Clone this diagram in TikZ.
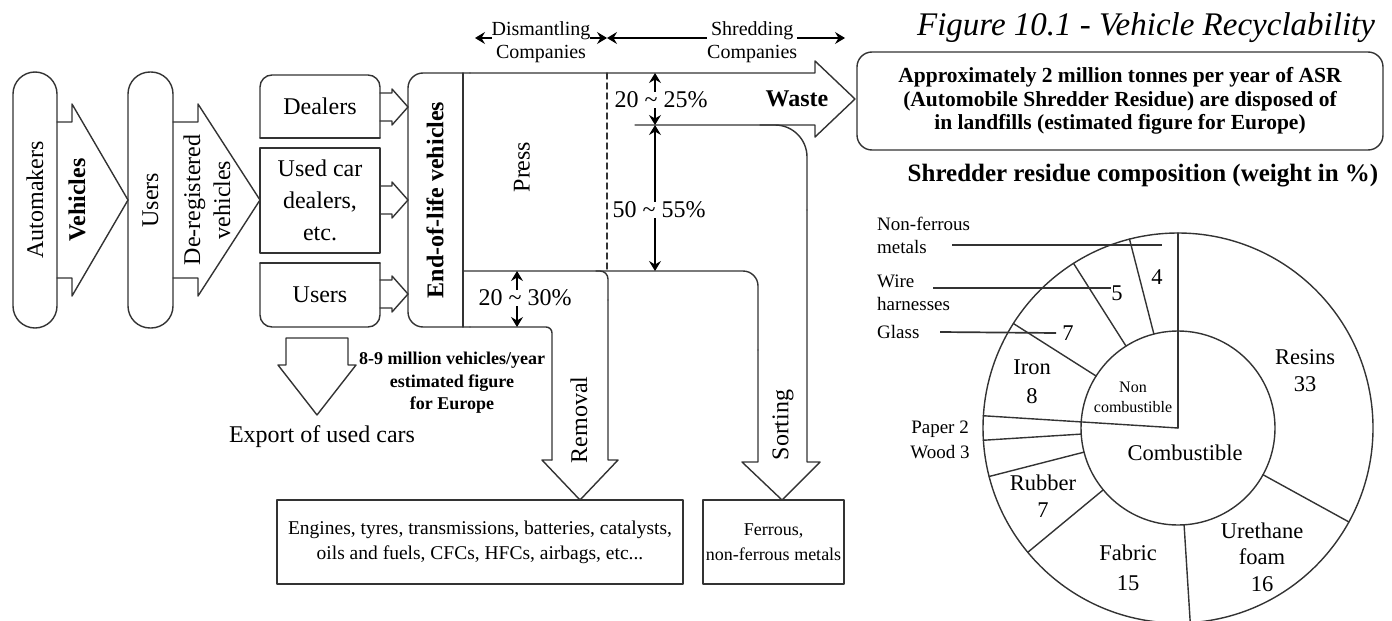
\documentclass[tikz,border=0pt]{standalone}
\usepackage{fontspec}
\setmainfont{Liberation Serif}
\usetikzlibrary{arrows.meta}
\tikzset{
  base/.style={inner sep=0pt, align=center, text=black},
  t24/.style={base, font=\fontsize{24}{28}\selectfont},
  b24/.style={base, font=\fontsize{24}{28}\selectfont\bfseries},
  t20/.style={base, font=\fontsize{20}{23}\selectfont},
  b21/.style={base, font=\fontsize{21.5}{23.5}\selectfont\bfseries},
  b18/.style={base, font=\fontsize{18}{22.5}\selectfont\bfseries},
  t22/.style={base, font=\fontsize{22.5}{27}\selectfont},
  t19/.style={base, font=\fontsize{19}{23}\selectfont},
  ln/.style={line width=1.4pt, draw=black!80, line cap=round, line join=round},
  lead/.style={line width=1.7pt, draw=black!80},
  dim/.style={line width=1.2pt, draw=black, {Stealth[length=10pt,width=12pt,inset=3.5pt]}-{Stealth[length=10pt,width=12pt,inset=3.5pt]}},
  lbl/.style={fill=white, inner sep=1.5pt},
  smallarr/.pic={\draw[ln] (0,-14) -- (12,-14) -- (12,-18) -- (28,0) -- (12,18) -- (12,14) -- (0,14);},
}
\newcommand{\tld}{\textasciitilde}
\begin{document}
\begin{tikzpicture}[x=1pt,y=-1pt]
\useasboundingbox (0,0) rectangle (1392,621);
\clip (0,0) rectangle (1392,621);

% ---------- left chain ----------
\node[draw, ln, rounded corners=22pt, minimum width=256pt, minimum height=44pt, rotate=90, t24] (automakers) at (35,200) {Automakers};
\draw[ln] (57,122) -- (72,122) -- (72,104) -- (128,200) -- (72,296) -- (72,278) -- (57,278);
\node[b24, rotate=90] (vehlbl) at (77,200) {Vehicles};
\node[draw, ln, rounded corners=22pt, minimum width=256pt, minimum height=45pt, rotate=90, t24] (users1) at (150.5,200) {Users};
\draw[ln] (173,122) -- (198,122) -- (198,104) -- (260,200) -- (198,296) -- (198,278) -- (173,278);
\node[base, font=\fontsize{24}{30}\selectfont, rotate=90] (dereg) at (207,200) {De-registered\\vehicles};

% ---------- intermediate boxes ----------
\draw[ln, rounded corners=12pt] (260,138) -- (260,75) -- (380,75) -- (380,138);
\draw[ln] (260,138) -- (380,138);
\node[t24] (dealers) at (320,106) {Dealers};
\node[draw, ln, minimum width=120pt, minimum height=105pt, base, font=\fontsize{24}{32}\selectfont] (used) at (320,200.5) {Used car\\dealers,\\etc.};
\draw[ln, rounded corners=12pt] (260,263) -- (260,327) -- (380,327) -- (380,263);
\draw[ln] (260,263) -- (380,263);
\node[t24] (users2) at (320,295) {Users};
\pic at (380,107) {smallarr};
\pic at (380,200) {smallarr};
\pic at (380,294) {smallarr};

% ---------- main flow outline ----------
\draw[ln, rounded corners=6pt] (552,460) -- (552,327) -- (470,327);
\draw[ln, rounded corners=15pt] (470,327) -- (408,327) -- (408,73) -- (470,73);
\draw[ln] (470,73) -- (815,73) -- (815,61) -- (855,99) -- (815,137) -- (815,125) -- (635,125);
\draw[ln, rounded corners=32pt] (760,125) -- (807,125) -- (807,210);
\draw[ln] (807,210) -- (807,462) -- (820,462) -- (782,500) -- (742,462) -- (758,462) -- (758,350);
\draw[ln, rounded corners=15pt] (758,350) -- (758,271) -- (463,271);
\draw[ln, rounded corners=8pt] (596,271) -- (608,271) -- (608,300);
\draw[ln] (608,300) -- (608,460) -- (618,460) -- (580,500) -- (542,460) -- (552,460);
\draw[ln] (463,73) -- (463,327);
\draw[ln, dashed, dash pattern=on 6pt off 4pt] (607,73) -- (607,271);

\node[b24, rotate=90] (eol) at (435,200) {End-of-life vehicles};
\node[t24, rotate=90] (press) at (522,167) {Press};
\node[b24] (waste) at (797,99) {Waste};
\node[t24, rotate=90] (removal) at (579,420) {Removal};
\node[t24, rotate=90] (sorting) at (783,425) {Sorting};

% ---------- dimension lines ----------
\coordinate (dl) at (475,38);
\coordinate (dm) at (607,38);
\coordinate (dr) at (845,38);
\draw[dim] (dl) -- (dm) node[pos=0.5, lbl, t20, yshift=-4pt] (dism) {Dismantling\\Companies};
\draw[dim] (dm) -- (dr) node[pos=0.61, lbl, t20, yshift=-4pt] (shred) {Shredding\\Companies};

\coordinate (p1) at (655,73);
\coordinate (p2) at (655,125);
\coordinate (p3) at (655,271);
\draw[dim] (p1) -- (p2);
\node[lbl, t24] (pct1) at (661,100) {20 \tld{} 25\%};
\draw[dim] (p2) -- (p3);
\node[lbl, t24] (pct2) at (659,210) {50 \tld{} 55\%};
\coordinate (q1) at (517,271);
\coordinate (q2) at (517,327);
\draw[dim] (q1) -- (q2);
\node[lbl, t24] (pct3) at (525,298) {20 \tld{} 30\%};

% ---------- export ----------
\draw[ln] (286,338) -- (348,338) -- (348,365) -- (356,365) -- (317,415) -- (278,365) -- (286,365) -- cycle;
\node[t24] (export) at (322,437) {Export of used cars};
\node[b18] (million) at (452,383) {8-9 million vehicles/year\\estimated figure\\for Europe};

% ---------- output boxes ----------
\node[draw, ln, minimum width=406pt, minimum height=84pt, base, font=\fontsize{19.5}{25}\selectfont] (parts) at (480,542) {Engines, tyres, transmissions, batteries, catalysts,\\oils and fuels, CFCs, HFCs, airbags, etc...};
\node[draw, ln, minimum width=141pt, minimum height=84pt, base, font=\fontsize{18}{25}\selectfont] (ferrous) at (773.5,542) {Ferrous,\\non-ferrous metals};

% ---------- right top ----------
\node[base, font=\fontsize{33}{37}\selectfont\itshape] (title) at (1146,28) {Figure 10.1 - Vehicle Recyclability};
\node[draw, ln, rounded corners=15pt, minimum width=526pt, minimum height=98pt, b21] (asr) at (1120,101) {Approximately 2 million tonnes per year of ASR\\(Automobile Shredder Residue) are disposed of\\in landfills (estimated figure for Europe)};
\node[base, font=\fontsize{25}{28}\selectfont\bfseries] (comp) at (1143,176) {Shredder residue composition (weight in \%)};

% ---------- donut ----------
\coordinate (dc) at (1178,428);
\draw[ln] (dc) circle[radius=195pt];
\draw[ln] (dc) circle[radius=97pt];
\draw[ln] (dc) -- ++(90:195pt);
\draw[ln] (dc) -- ++(176.4:195pt);
\foreach \a in {104.4,122.4,147.6,183.6,194.4,219.6,273.6,331.2}
  \draw[ln] (dc) ++(\a:97pt) -- ++(\a:98pt);

\node[t22] (resins) at (1305,371) {Resins\\33};
\node[base, font=\fontsize{22.5}{26.5}\selectfont] (ureth) at (1262,557) {Urethane\\foam\\16};
\node[base, font=\fontsize{22.5}{30}\selectfont] (fabric) at (1128,568) {Fabric\\15};
\node[t22] (rubber) at (1043,496) {Rubber\\7};
\node[base, font=\fontsize{22.5}{29}\selectfont] (iron) at (1032,382) {Iron\\8};
\node[base, font=\fontsize{16}{20}\selectfont] (noncomb) at (1133,397) {Non\\combustible};
\node[t22] (comb) at (1185,453) {Combustible};
\node[base, font=\fontsize{19}{25}\selectfont] (paperwood) at (940,440) {Paper 2\\Wood 3};
\node[t22] (n4) at (1157,277) {4};
\node[t22] (n5) at (1117,293) {5};
\node[t22] (n7) at (1068,333) {7};
\node[t19, anchor=west, align=left] (nonfer) at (877,235) {Non-ferrous\\metals};
\node[t19, anchor=west, align=left] (wire) at (877,293) {Wire\\harnesses};
\node[t19, anchor=west, align=left] (glass) at (877,332) {Glass};
\coordinate (nfa) at (952,245);
\coordinate (nfb) at (1162,245);
\coordinate (wra) at (933,288);
\coordinate (gla) at (940,332);
\draw[lead] (nfa) -- (nfb);
\draw[lead] (wra) -- (n5.west |- wra);
\draw[lead] (gla) -- ([xshift=-6pt]n7.west);
\end{tikzpicture}
\end{document}
